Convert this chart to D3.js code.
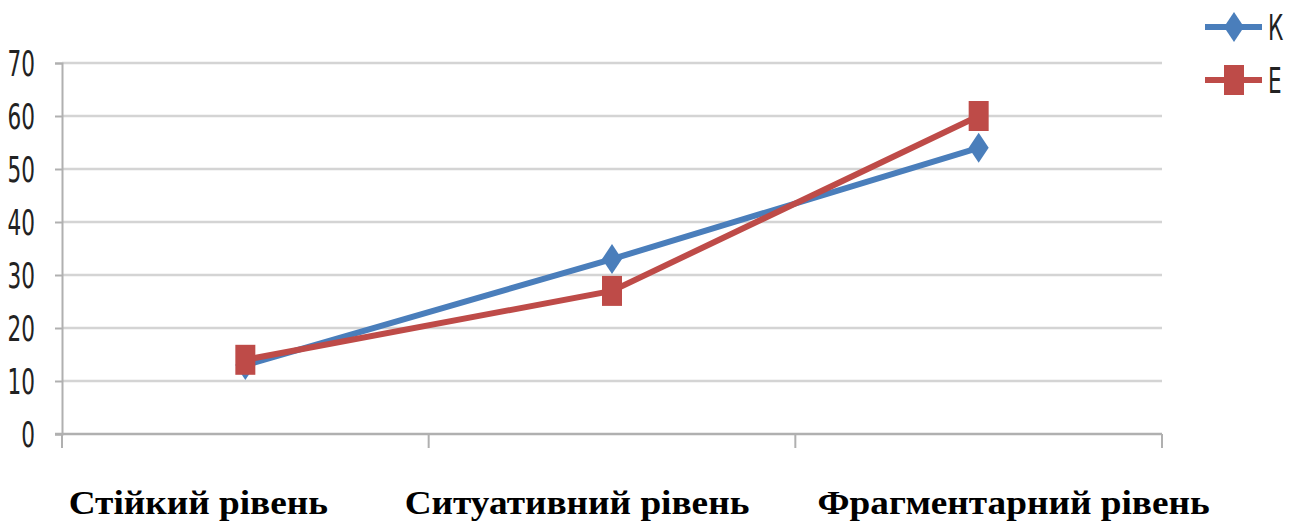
<!DOCTYPE html>
<html>
<head>
<meta charset="utf-8">
<script src="https://cdn.jsdelivr.net/npm/d3@7"></script>
<style>
  body { margin: 0; background: #fff; }
</style>
</head>
<body>
<div id="chart"></div>
<script>
const categories = ["Стійкий рівень", "Ситуативний рівень", "Фрагментарний рівень"];
const seriesK = [13, 33, 54];
const seriesE = [14, 27, 60];
const seriesNames = ["К", "Е"];
const yTicks = [0, 10, 20, 30, 40, 50, 60, 70];

function drawChart() {
    const div_id = "#chart";

    //Width and height
    let width = 1295;
    let height = 528;

    const left = 62, right = 1162, top = 63, bottom = 434;
    const blue = "#4a7ebb", red = "#be4b48";

    const svg = d3.select(div_id)
        .append("svg")
        .attr("width", width)
        .attr("height", height);

    const x = d3.scaleBand()
        .domain(categories)
        .range([left, right]);

    const y = d3.scaleLinear()
        .domain([0, 70])
        .range([bottom, top]);

    // gridlines
    svg.append("g")
        .selectAll("line")
        .data(yTicks.filter(d => d > 0))
        .join("line")
        .attr("x1", left)
        .attr("x2", right)
        .attr("y1", d => y(d))
        .attr("y2", d => y(d))
        .style("stroke", "#d4d4d4")
        .style("stroke-width", 2.5);

    // y axis (labels are tall and narrow in the original)
    const yAxis = svg.append("g")
        .attr("transform", `translate(${left},0)`)
        .call(d3.axisLeft(y).tickValues(yTicks).tickSize(7).tickPadding(20));
    yAxis.select(".domain").style("stroke", "#b0b0b0").style("stroke-width", 2);
    yAxis.selectAll(".tick line").style("stroke", "#b0b0b0").style("stroke-width", 2);
    yAxis.selectAll(".tick text")
        .attr("dy", "0.36em")
        .attr("transform", "scale(1,1.5)")
        .style("font-family", "DejaVu Sans Condensed, Liberation Sans Narrow, sans-serif")
        .style("font-size", "24px")
        .style("fill", "#222");

    // x axis
    const xAxis = svg.append("g")
        .attr("transform", `translate(0,${bottom})`);
    xAxis.append("line")
        .attr("x1", left - 7)
        .attr("x2", right)
        .style("stroke", "#b0b0b0")
        .style("stroke-width", 2.5);
    const edges = categories.map(c => x(c)).concat([right]);
    xAxis.selectAll("line.tk")
        .data(edges)
        .join("line")
        .attr("class", "tk")
        .attr("x1", d => d)
        .attr("x2", d => d)
        .attr("y1", 0)
        .attr("y2", 14)
        .style("stroke", "#b0b0b0")
        .style("stroke-width", 2);

    // category labels
    const labelShift = [-47, -35, 35];
    svg.append("g")
        .selectAll("text")
        .data(categories)
        .join("text")
        .attr("transform", (d, i) => `translate(${x(d) + x.bandwidth() / 2 + labelShift[i]},514) scale(1.13,1)`)
        .attr("text-anchor", "middle")
        .style("font-family", "Liberation Serif, Times New Roman, serif")
        .style("font-weight", "bold")
        .style("font-size", "33px")
        .style("fill", "#000")
        .text(d => d);

    const cx = d => x(d) + x.bandwidth() / 2;
    const line = d3.line()
        .x((d, i) => cx(categories[i]))
        .y(d => y(d));

    const diamond = "M0,-15L10,0L0,15L-10,0Z";
    const square = "M-10,-15L10,-15L10,15L-10,15Z";

    // K series
    svg.append("path")
        .datum(seriesK)
        .attr("d", line)
        .attr("fill", "none")
        .style("stroke", blue)
        .style("stroke-width", 6);
    svg.append("g")
        .selectAll("path")
        .data(seriesK)
        .join("path")
        .attr("transform", (d, i) => `translate(${cx(categories[i])},${y(d)})`)
        .attr("d", diamond)
        .attr("fill", blue);

    // E series
    svg.append("path")
        .datum(seriesE)
        .attr("d", line)
        .attr("fill", "none")
        .style("stroke", red)
        .style("stroke-width", 6);
    svg.append("g")
        .selectAll("path")
        .data(seriesE)
        .join("path")
        .attr("transform", (d, i) => `translate(${cx(categories[i])},${y(d)})`)
        .attr("d", square)
        .attr("fill", red);

    // legend
    const legend = svg.append("g")
        .selectAll("g")
        .data(seriesNames)
        .join("g")
        .attr("transform", (d, i) => `translate(1205,${27 + i * 53})`);
    legend.append("line")
        .attr("x1", 0)
        .attr("x2", 57)
        .style("stroke", (d, i) => i === 0 ? blue : red)
        .style("stroke-width", 6);
    legend.append("path")
        .attr("transform", "translate(29,0)")
        .attr("d", (d, i) => i === 0 ? diamond : square)
        .attr("fill", (d, i) => i === 0 ? blue : red);
    legend.append("text")
        .attr("transform", "translate(63,13) scale(1,1.5)")
        .style("font-family", "DejaVu Sans Condensed, Liberation Sans Narrow, sans-serif")
        .style("font-size", "24px")
        .style("fill", "#222")
        .text(d => d);
}
drawChart();
</script>
</body>
</html>
